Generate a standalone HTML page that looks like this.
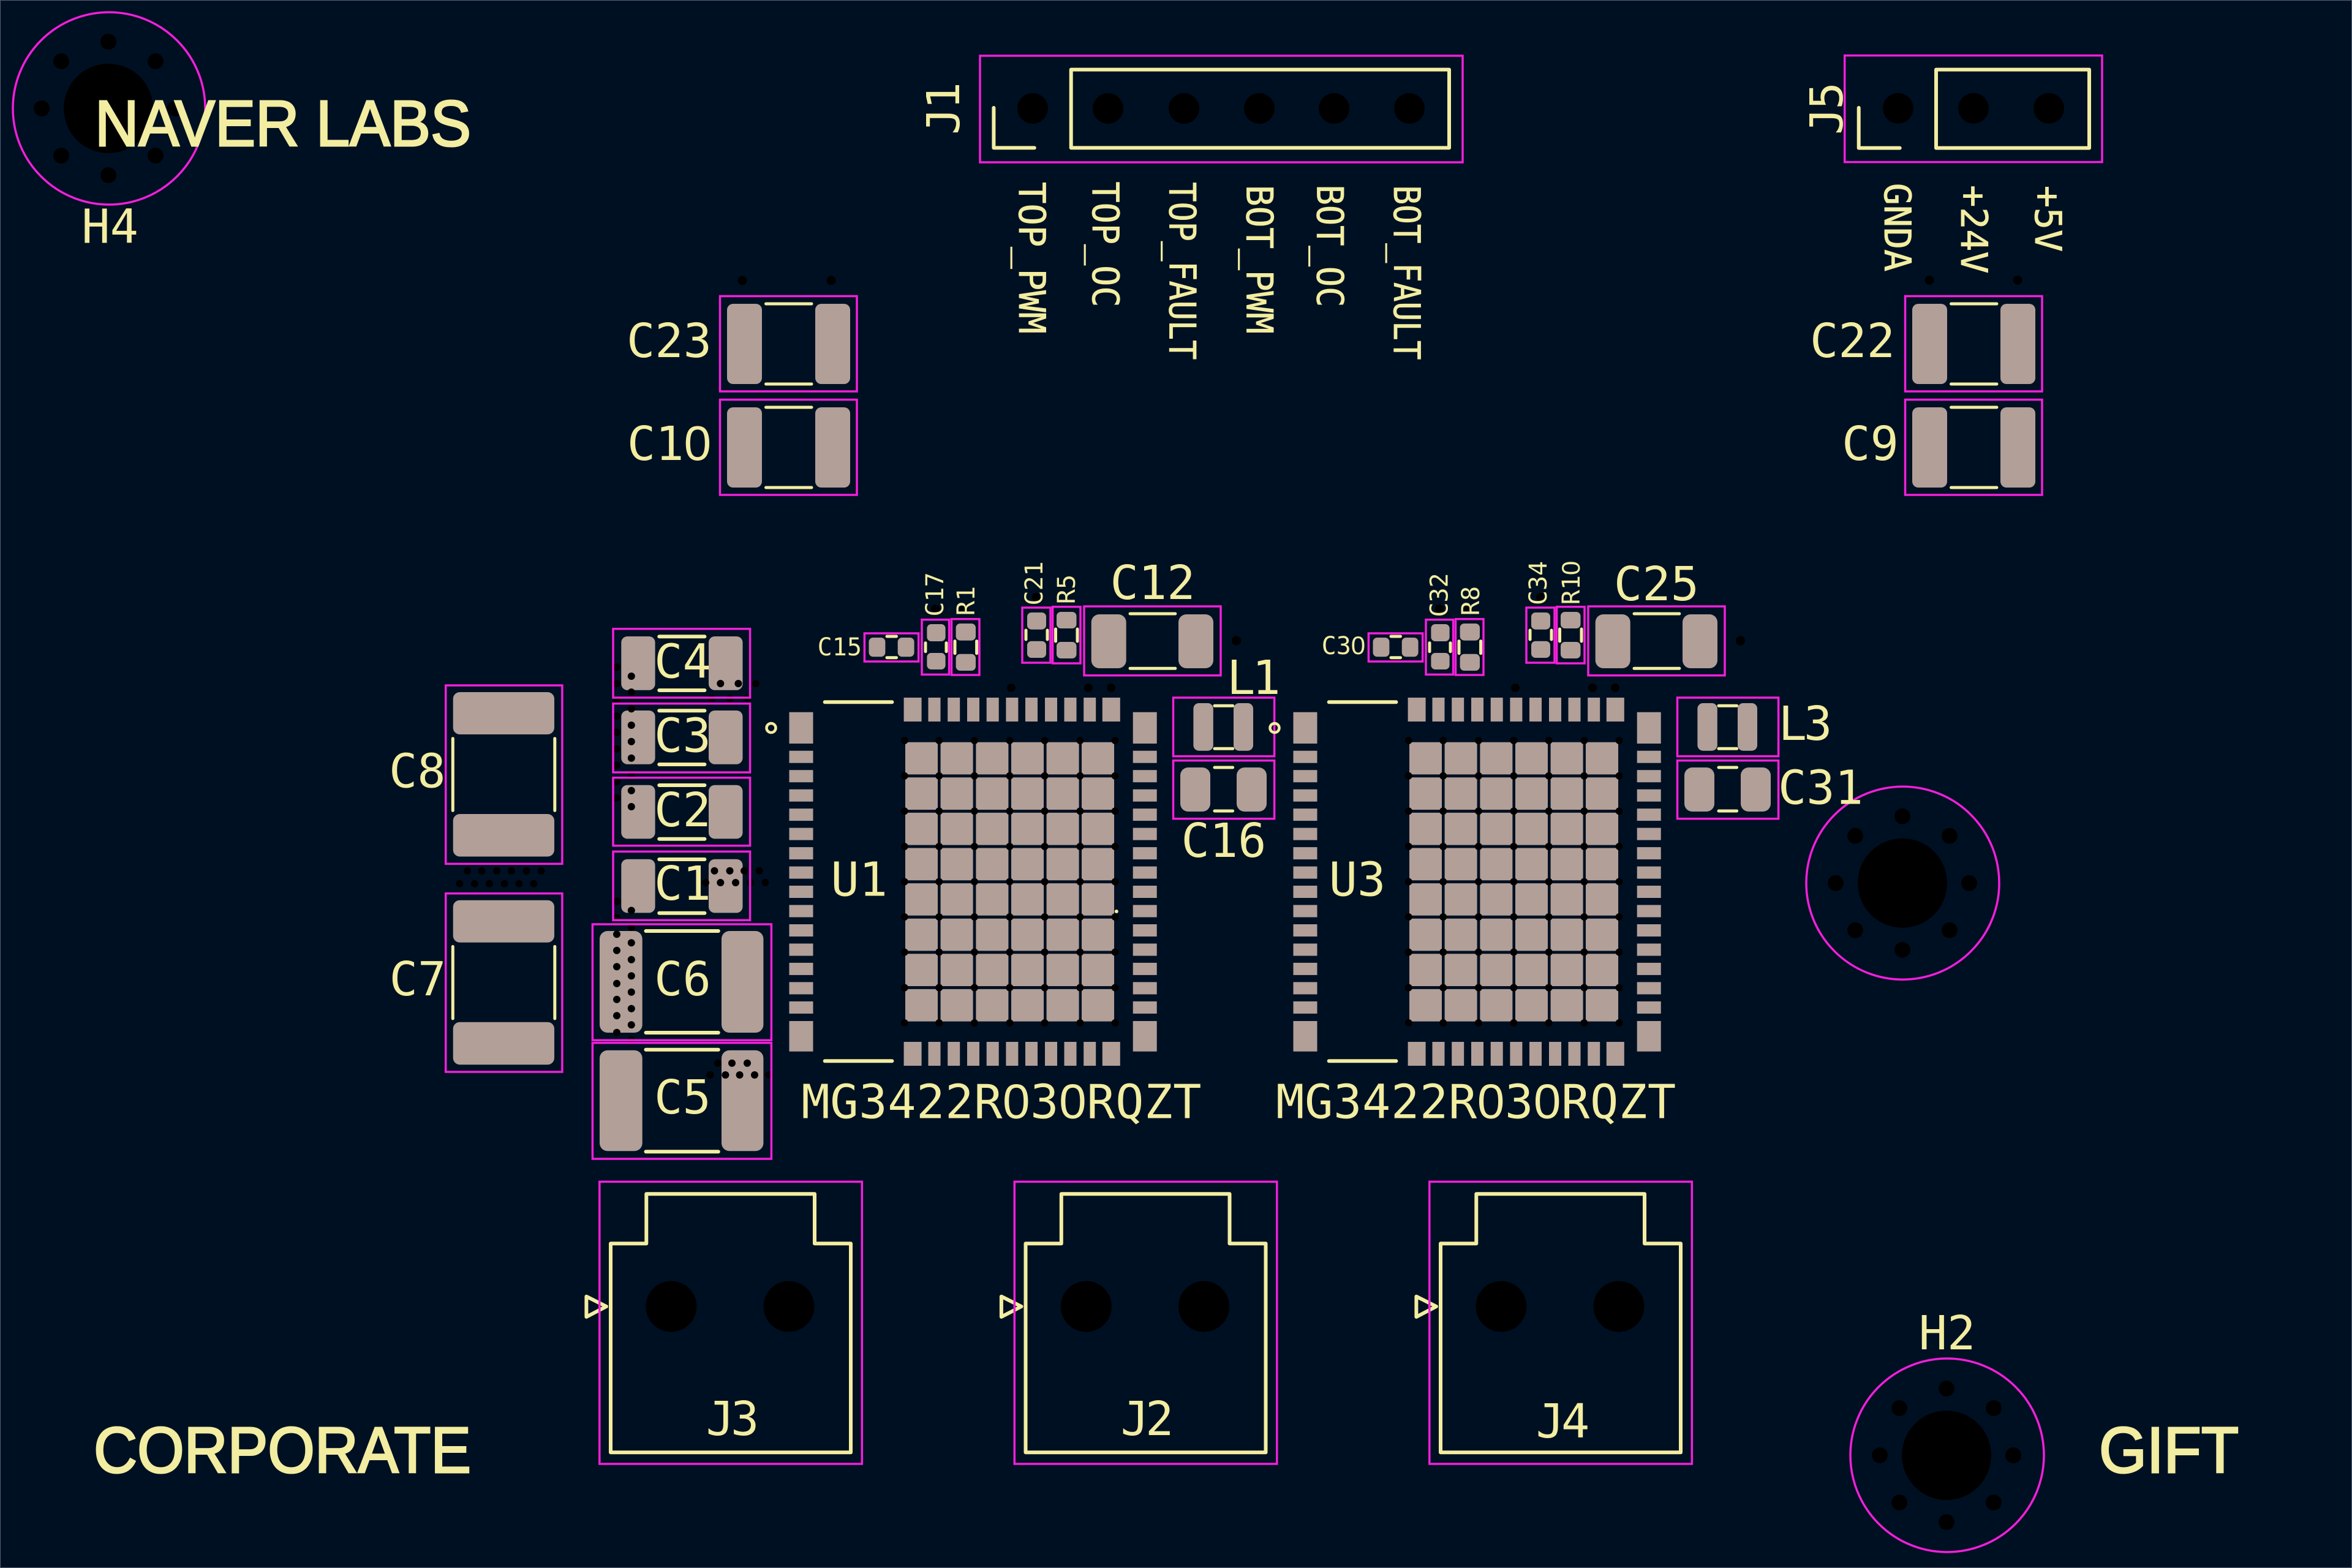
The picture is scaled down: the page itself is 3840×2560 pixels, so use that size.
<!DOCTYPE html>
<html><head><meta charset="utf-8"><title>PCB layout</title>
<style>
html,body{margin:0;padding:0;background:#001023}
svg{display:block}
.p{fill:#b19f98}
.c{fill:none;stroke:#f21fdb;stroke-width:3.5}
.s{fill:none;stroke:#f2eda1;stroke-width:6;stroke-linecap:round;stroke-linejoin:round}
.n{stroke-width:5}
.h{fill:#000}
text{fill:#f2eda1;font-family:"DejaVu Sans Mono",monospace;text-anchor:middle}
text.b{font-family:"Liberation Sans",sans-serif;text-anchor:start;stroke:#f2eda1;stroke-width:3;font-size:105.6px}
tspan{font-family:"Liberation Sans",sans-serif}
.r text{stroke:#f2eda1;stroke-width:.8}
</style></head><body>
<svg xmlns="http://www.w3.org/2000/svg" xmlns:xlink="http://www.w3.org/1999/xlink" width="3840" height="2560" viewBox="0 0 3840 2560">
<defs>
<g id="mh" class="h"><circle r="73"/><circle cy="-109" r="13"/><circle cy="109" r="13"/><circle cx="-109" r="13"/><circle cx="109" r="13"/><circle cx="-77" cy="-77" r="13"/><circle cx="77" cy="-77" r="13"/><circle cx="-77" cy="77" r="13"/><circle cx="77" cy="77" r="13"/></g>
<g id="gcol" class="p"><rect y="1211.7" width="53" height="52.7" rx="3"/><rect y="1269.3" width="53" height="52.7" rx="3"/><rect y="1326.9" width="53" height="52.7" rx="3"/><rect y="1384.5" width="53" height="52.7" rx="3"/><rect y="1442.1" width="53" height="52.7" rx="3"/><rect y="1499.7" width="53" height="52.7" rx="3"/><rect y="1557.3" width="53" height="52.7" rx="3"/><rect y="1614.9" width="53" height="52.7" rx="3"/></g>
<g id="hcol" class="h"><circle cy="1209" r="6"/><circle cy="1266.7" r="6"/><circle cy="1324.3" r="6"/><circle cy="1382" r="6"/><circle cy="1439.5" r="6"/><circle cy="1497" r="6"/><circle cy="1554.5" r="6"/><circle cy="1612.5" r="6"/><circle cy="1670" r="6"/></g>
<g id="side" class="p"><rect y="1162.7" width="39" height="51.3"/><rect y="1225.7" width="39" height="20"/><rect y="1257.2" width="39" height="20"/><rect y="1288.7" width="39" height="20"/><rect y="1320.1" width="39" height="20"/><rect y="1351.6" width="39" height="20"/><rect y="1383.1" width="39" height="20"/><rect y="1414.6" width="39" height="20"/><rect y="1446" width="39" height="20"/><rect y="1477.5" width="39" height="20"/><rect y="1509" width="39" height="20"/><rect y="1540.5" width="39" height="20"/><rect y="1571.9" width="39" height="20"/><rect y="1603.4" width="39" height="20"/><rect y="1634.9" width="39" height="20"/><rect y="1667" width="39" height="49.7"/></g>
<g id="row" class="p"><rect x="1475.6" width="29" height="39"/><rect x="1515.5" width="20" height="39"/><rect x="1547.2" width="20" height="39"/><rect x="1579" width="20" height="39"/><rect x="1610.7" width="20" height="39"/><rect x="1642.4" width="20" height="39"/><rect x="1674" width="20" height="39"/><rect x="1706" width="20" height="39"/><rect x="1737.5" width="20" height="39"/><rect x="1769.2" width="20" height="39"/><rect x="1799.8" width="29" height="39"/></g>
<g id="big2">
<rect class="p" x="1187" y="0" width="57" height="131" rx="10"/><rect class="p" x="1331" y="0" width="57" height="131" rx="10"/>
<path class="s n" d="M1250.5 0H1325M1250.5 131H1325"/>
<rect class="c" x="1175.5" y="-12.5" width="223.5" height="155.5"/>
</g>
<g id="cap5">
<rect class="p" x="1014.3" y="0" width="55.3" height="87.7" rx="10"/><rect class="p" x="1157" y="0" width="55.5" height="87.7" rx="10"/>
<path class="s" d="M1076.3 .3H1150.4M1076.3 88H1150.4"/>
</g>
<g id="cap3">
<rect class="p" x="739.7" y="0" width="165.3" height="69" rx="11"/>
<rect class="p" x="739.7" y="199" width="165.3" height="69.5" rx="11"/>
<path class="s n" d="M739.3 75.7V193.3M905.8 75.7V193.3"/>
<rect class="c" x="727.7" y="-11" width="190.2" height="291.3"/>
</g>
<g id="jst">
<circle class="h" cx="1095.9" cy="2133" r="41.6"/><circle class="h" cx="1288" cy="2133" r="41.6"/>
<path class="s" d="M997 2371.3H1389V2030.3H1330V1949.3H1055.3V2030.3H997Z"/>
<path class="s" d="M957.4 2116.7V2150L990 2133Z"/>
<rect class="c" x="978.8" y="1929.3" width="428.5" height="460.7"/>
</g>
<g id="cell">
<g class="h"><circle cx="1651" cy="1123" r="7"/><circle cx="1777" cy="1123" r="7"/><circle cx="1814" cy="1123" r="7"/><circle cx="2018.6" cy="1046" r="7.7"/><circle cx="1527" cy="994" r="7"/><circle cx="1573.8" cy="995" r="7"/><circle cx="1691.7" cy="975" r="7"/></g>
<use xlink:href="#gcol" x="1478"/><use xlink:href="#gcol" x="1535.6"/><use xlink:href="#gcol" x="1593.4"/><use xlink:href="#gcol" x="1651"/><use xlink:href="#gcol" x="1708.6"/><use xlink:href="#gcol" x="1766"/>
<use xlink:href="#hcol" x="1476.7"/><use xlink:href="#hcol" x="1533.2"/><use xlink:href="#hcol" x="1590.9"/><use xlink:href="#hcol" x="1648.4"/><use xlink:href="#hcol" x="1705.6"/><use xlink:href="#hcol" x="1763.4"/><use xlink:href="#hcol" x="1820.6"/>
<use xlink:href="#side" x="1288.5"/><use xlink:href="#side" x="1849.7"/>
<use xlink:href="#row" y="1139"/><use xlink:href="#row" y="1701"/>
<path class="s" d="M1346.7 1146.3H1456.4M1346.7 1732.3H1456.4"/>
<g class="p">
<rect x="1418.5" y="1041" width="26.9" height="31.3" rx="7"/><rect x="1465.7" y="1041" width="26.9" height="31.3" rx="7"/>
<rect x="1513.4" y="1019" width="30.2" height="28" rx="7"/><rect x="1513.4" y="1066" width="30.2" height="27" rx="7"/>
<rect x="1560.6" y="1018" width="32.4" height="27.7" rx="7"/><rect x="1560.6" y="1067.7" width="32.4" height="27.3" rx="7"/>
<rect x="1677" y="1000" width="31" height="27.7" rx="7"/><rect x="1677" y="1046.7" width="31" height="27.3" rx="7"/>
<rect x="1725" y="999" width="32.5" height="27" rx="7"/><rect x="1725" y="1048" width="32.5" height="27" rx="7"/>
<rect x="1781.7" y="1003" width="57" height="88" rx="13"/><rect x="1924" y="1003" width="57" height="88" rx="13"/>
<rect x="1948.4" y="1148" width="32.4" height="77.7" rx="9"/><rect x="2014" y="1148" width="32" height="77.7" rx="9"/>
<rect x="1927" y="1253" width="49" height="72" rx="13"/><rect x="2019" y="1253" width="49" height="72" rx="13"/>
</g>
<path class="s n" d="M1448 1039H1463.5M1448 1073.7H1463.5M1511 1049.7V1063.7M1545 1049.7V1063.7M1559 1046.7V1066.7M1594.6 1046.7V1066.7M1675 1029V1044M1710 1029V1044M1723.5 1027V1047M1759 1027V1047M1845 1002H1918.8M1845 1091.3H1918.8M1983 1152.3H2012.6M1983 1222.3H2012.6M1983 1253H2012.6M1983 1324H2012.6"/>
<rect class="c" x="1411.4" y="1034" width="88.3" height="46"/>
<rect class="c" x="1505" y="1011.7" width="44.6" height="89.6"/>
<rect class="c" x="1553.5" y="1010.7" width="45.5" height="91.3"/>
<rect class="c" x="1669" y="992" width="46" height="90"/>
<rect class="c" x="1718.6" y="990.7" width="45.4" height="92.3"/>
<rect class="c" x="1770" y="990" width="223" height="112.7"/>
<rect class="c" x="1915.5" y="1139" width="165.1" height="95.7"/>
<rect class="c" x="1915.5" y="1241.7" width="165.1" height="95"/>
</g>
</defs>
<rect width="3840" height="2560" fill="#001023"/>
<rect x=".5" y=".5" width="3839" height="2559" fill="none" stroke="#56606e" stroke-width="1"/>

<!-- mounting holes -->
<use xlink:href="#mh" x="177" y="177"/><circle class="c" cx="178" cy="177" r="157"/>
<use xlink:href="#mh" x="3106" y="1441.7"/><circle class="c" cx="3106.5" cy="1441.7" r="157.5"/>
<use xlink:href="#mh" x="3178" y="2376"/><circle class="c" cx="3179" cy="2376" r="158"/>

<!-- J1 -->
<g class="h"><circle cx="1686" cy="177" r="25"/><circle cx="1809" cy="177" r="25"/><circle cx="1933" cy="177" r="25"/><circle cx="2056" cy="177" r="25"/><circle cx="2178" cy="177" r="25"/><circle cx="2301" cy="177" r="25"/></g>
<rect class="s" x="1748.7" y="113.6" width="617.3" height="127.8"/>
<path class="s" d="M1622.4 176V241.4H1688.8"/>
<rect class="c" x="1600" y="91" width="788" height="174"/>
<!-- J5 -->
<g class="h"><circle cx="3099" cy="176.8" r="25"/><circle cx="3222" cy="176.8" r="25"/><circle cx="3345" cy="176.8" r="25"/></g>
<rect class="s" x="3161" y="113.6" width="250" height="128"/>
<path class="s" d="M3034.7 176V241.6H3101.7"/>
<rect class="c" x="3011.7" y="90.6" width="420.3" height="174"/>

<g class="h"><circle cx="3150" cy="457.4" r="7.5"/><circle cx="3294" cy="457.4" r="7.5"/><circle cx="1212" cy="458" r="7.5"/><circle cx="1357" cy="458" r="7.5"/></g>

<use xlink:href="#big2" x="0" y="496"/><use xlink:href="#big2" x="0" y="665"/>
<use xlink:href="#big2" x="1935" y="496"/><use xlink:href="#big2" x="1935" y="665"/>

<!-- left big caps -->
<g class="h">
<circle cx="763" cy="1421.7" r="6"/><circle cx="786.6" cy="1421.7" r="6"/><circle cx="811" cy="1421.7" r="6"/><circle cx="835" cy="1421.7" r="6"/><circle cx="859.4" cy="1421.7" r="6"/><circle cx="883.5" cy="1421.7" r="6"/>
<circle cx="750.4" cy="1442.7" r="6"/><circle cx="775" cy="1442.7" r="6"/><circle cx="799" cy="1442.7" r="6"/><circle cx="823.7" cy="1442.7" r="6"/><circle cx="847.3" cy="1442.7" r="6"/><circle cx="871.4" cy="1442.7" r="6"/>
</g>
<use xlink:href="#cap3" x="0" y="1130"/><use xlink:href="#cap3" x="0" y="1469.7"/>

<!-- C1-C6 -->
<use xlink:href="#cap5" y="1039"/><use xlink:href="#cap5" y="1160"/><use xlink:href="#cap5" y="1281.7"/><use xlink:href="#cap5" y="1402.7"/>
<g class="p"><rect x="979" y="1520" width="69.7" height="166" rx="13"/><rect x="1178" y="1520" width="68.4" height="166" rx="13"/><rect x="979" y="1714.7" width="69.7" height="164.6" rx="13"/><rect x="1178" y="1714.7" width="68.4" height="164.6" rx="13"/></g>
<path class="s" d="M1054.5 1520H1172.8M1054.5 1686H1172.8M1054.5 1713.7H1172.8M1054.5 1880.3H1172.8"/>
<g class="h">
<circle cx="1030.8" cy="1104" r="6"/><circle cx="1030.8" cy="1130" r="6"/><circle cx="1030.8" cy="1157.3" r="6"/><circle cx="1030.8" cy="1184" r="6"/><circle cx="1030.8" cy="1210.7" r="6"/><circle cx="1030.8" cy="1237.7" r="6"/><circle cx="1030.8" cy="1265" r="6"/><circle cx="1030.8" cy="1290.7" r="6"/><circle cx="1030.8" cy="1317" r="6"/><circle cx="1030.8" cy="1486.5" r="6"/><circle cx="1030.8" cy="1514" r="6"/><circle cx="1030.8" cy="1539.3" r="6"/><circle cx="1030.8" cy="1566.7" r="6"/><circle cx="1030.8" cy="1593.3" r="6"/><circle cx="1030.8" cy="1619.7" r="6"/><circle cx="1030.8" cy="1646.7" r="6"/><circle cx="1030.8" cy="1673.3" r="6"/><circle cx="1030.8" cy="1698" r="6"/>
<circle cx="1007" cy="1089.3" r="6"/><circle cx="1007" cy="1116" r="6"/><circle cx="1007" cy="1142.7" r="6"/><circle cx="1007" cy="1169" r="6"/><circle cx="1007" cy="1195.7" r="6"/><circle cx="1007" cy="1222.7" r="6"/><circle cx="1007" cy="1249.3" r="6"/><circle cx="1007" cy="1276" r="6"/><circle cx="1007" cy="1302.7" r="6"/><circle cx="1007" cy="1471.5" r="6"/><circle cx="1007" cy="1498.5" r="6"/><circle cx="1007" cy="1525.3" r="6"/><circle cx="1007" cy="1551.7" r="6"/><circle cx="1007" cy="1578.3" r="6"/><circle cx="1007" cy="1605.7" r="6"/><circle cx="1007" cy="1631.7" r="6"/><circle cx="1007" cy="1658.3" r="6"/><circle cx="1007" cy="1685.7" r="6"/>
<circle cx="1176.3" cy="1116" r="6"/><circle cx="1205.4" cy="1116" r="6"/><circle cx="1233.9" cy="1116" r="6"/><circle cx="1161.6" cy="1140" r="6"/><circle cx="1191.5" cy="1140" r="6"/><circle cx="1219.6" cy="1140" r="6"/>
<circle cx="1166.5" cy="1421.7" r="6"/><circle cx="1191.5" cy="1421.7" r="6"/><circle cx="1215" cy="1421.7" r="6"/><circle cx="1239.7" cy="1421.7" r="6"/>
<circle cx="1152" cy="1441" r="6"/><circle cx="1176.3" cy="1441" r="6"/><circle cx="1201" cy="1441" r="6"/><circle cx="1225" cy="1441" r="6"/><circle cx="1249.5" cy="1441" r="6"/>
<circle cx="1171.9" cy="1735.7" r="6"/><circle cx="1195" cy="1735.7" r="6"/><circle cx="1220" cy="1735.7" r="6"/>
<circle cx="1159.4" cy="1755" r="6"/><circle cx="1184.4" cy="1755" r="6"/><circle cx="1207.6" cy="1755" r="6"/><circle cx="1232" cy="1755" r="6"/><circle cx="1255.4" cy="1755" r="6"/>
</g>
<rect class="c" x="1001" y="1026.7" width="223.6" height="112.3"/>
<rect class="c" x="1001" y="1148.7" width="223.6" height="112.3"/>
<rect class="c" x="1001" y="1269.7" width="223.6" height="111"/>
<rect class="c" x="1001" y="1390.3" width="223.6" height="112"/>
<rect class="c" x="967.4" y="1509" width="292" height="189.3"/>
<rect class="c" x="967.4" y="1702.7" width="292" height="189.3"/>

<!-- U1 / U3 cells -->
<use xlink:href="#cell"/>
<use xlink:href="#cell" x="823"/>
<circle cx="1822.8" cy="1488" r="3" fill="#f2eda1"/>
<circle cx="1259" cy="1188.5" r="7.5" fill="none" stroke="#f2eda1" stroke-width="4.5"/>
<circle cx="2081" cy="1188.5" r="7.5" fill="none" stroke="#f2eda1" stroke-width="4.5"/>

<!-- JST connectors -->
<use xlink:href="#jst"/><use xlink:href="#jst" x="677.5"/><use xlink:href="#jst" x="1355"/>

<!-- big text -->
<text class="b" x="155" y="238" textLength="614" lengthAdjust="spacingAndGlyphs">NAVER LABS</text>
<text class="b" x="153" y="2404" textLength="616" lengthAdjust="spacingAndGlyphs">CORPORATE</text>
<text class="b" x="3427" y="2404" textLength="228" lengthAdjust="spacingAndGlyphs">GIFT</text>

<!-- rotated labels -->
<g font-size="60" class="r">
<text transform="translate(1664,421) rotate(90)" textLength="248" lengthAdjust="spacingAndGlyphs">TOP_PWM</text>
<text transform="translate(1784,399) rotate(90)" textLength="205" lengthAdjust="spacingAndGlyphs">TOP_OC</text>
<text transform="translate(1909.4,442.3) rotate(90)" textLength="290" lengthAdjust="spacingAndGlyphs">TOP_FAULT</text>
<text transform="translate(2035.7,423.5) rotate(90)" textLength="243" lengthAdjust="spacingAndGlyphs">BOT_PWM</text>
<text transform="translate(2150.5,401.5) rotate(90)" textLength="200" lengthAdjust="spacingAndGlyphs">BOT_OC</text>
<text transform="translate(2276,445) rotate(90)" textLength="285" lengthAdjust="spacingAndGlyphs">BOT_FAULT</text>
<text transform="translate(3076.8,371) rotate(90)">GNDA</text>
<text transform="translate(3202,374.4) rotate(90)">+24V</text>
<text transform="translate(3323,357) rotate(90)">+5V</text>
</g>
<g font-size="74">
<text transform="translate(1566,178.5) rotate(-90)" letter-spacing="-3">J1</text>
<text transform="translate(3008,178.6) rotate(-90)" letter-spacing="-3">J5</text>
</g>
<g font-size="40">
<text transform="translate(1540,970.5) rotate(-90)">C17</text>
<text transform="translate(1591,981) rotate(-90)">R1</text>
<text transform="translate(1702,952.5) rotate(-90)">C21</text>
<text transform="translate(1755,962) rotate(-90)">R5</text>
<text transform="translate(2363.3,971.5) rotate(-90)">C32</text>
<text transform="translate(2414.8,981) rotate(-90)">R8</text>
<text transform="translate(2525,952) rotate(-90)">C34</text>
<text transform="translate(2579,951.5) rotate(-90)">R1<tspan font-size="42">0</tspan></text>
<text x="1370.8" y="1070">C15</text>
<text x="2193.4" y="1068">C3<tspan font-size="42">0</tspan></text>
</g>
<g font-size="77">
<text x="179.6" y="396.7">H4</text>
<text x="3179" y="2203">H2</text>
<text x="1092.5" y="583">C23</text>
<text x="1092.5" y="751">C1<tspan font-size="80">0</tspan></text>
<text x="3024.5" y="583">C22</text>
<text x="3053.5" y="751">C9</text>
<text x="681.3" y="1285.7">C8</text>
<text x="682" y="1625">C7</text>
<text x="1114.5" y="1106.7">C4</text>
<text x="1114.5" y="1227.7">C3</text>
<text x="1114.5" y="1349">C2</text>
<text x="1114.5" y="1469">C1</text>
<text x="1114.5" y="1625">C6</text>
<text x="1114.5" y="1818">C5</text>
<text x="1882" y="978">C12</text>
<text x="2704.4" y="980">C25</text>
<text x="2044.4" y="1133" letter-spacing="-5">L1</text>
<text x="2945" y="1208" letter-spacing="-5">L3</text>
<text x="1998" y="1399">C16</text>
<text x="2972.5" y="1312.7">C31</text>
<text x="1402.7" y="1462.3">U1</text>
<text x="2216" y="1462.3">U3</text>
<text x="1635.2" y="1825.7" letter-spacing="0.6">MG3422R<tspan font-size="80">0</tspan>3<tspan font-size="80">0</tspan>RQZT</text>
<text x="2410" y="1825.7" letter-spacing="0.6">MG3422R<tspan font-size="80">0</tspan>3<tspan font-size="80">0</tspan>RQZT</text>
<text x="1193" y="2343" letter-spacing="-6">J3</text>
<text x="1870" y="2343" letter-spacing="-6">J2</text>
<text x="2549" y="2347" letter-spacing="-5">J4</text>
</g>
</svg>
</body></html>
